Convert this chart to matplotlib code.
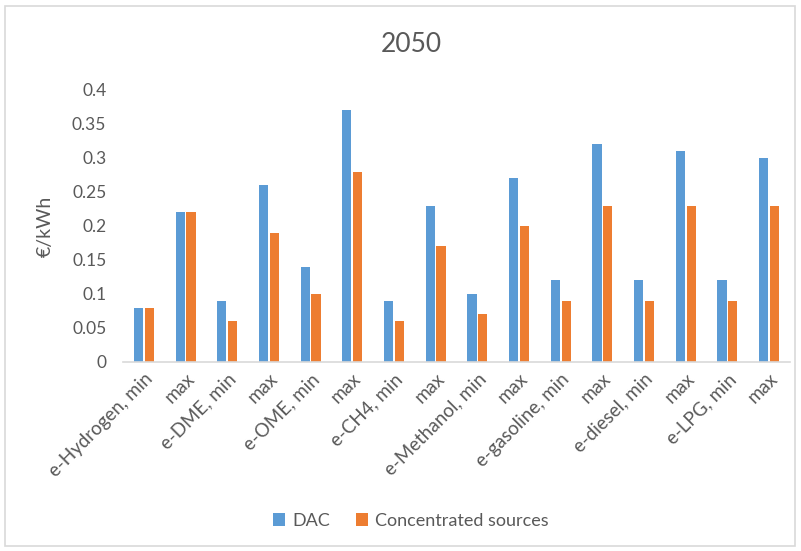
import matplotlib.pyplot as plt
from matplotlib.patches import Rectangle
import numpy as np

categories = ["e-Hydrogen, min", "max", "e-DME, min", "max", "e-OME, min", "max",
              "e-CH4, min", "max", "e-Methanol, min", "max", "e-gasoline, min", "max",
              "e-diesel, min", "max", "e-LPG, min", "max"]
dac = [0.08, 0.22, 0.09, 0.26, 0.14, 0.37, 0.09, 0.23, 0.10, 0.27, 0.12, 0.32, 0.12, 0.31, 0.12, 0.30]
concentrated = [0.08, 0.22, 0.06, 0.19, 0.10, 0.28, 0.06, 0.17, 0.07, 0.20, 0.09, 0.23, 0.09, 0.23, 0.09, 0.23]
yticks = [0, 0.05, 0.1, 0.15, 0.2, 0.25, 0.3, 0.35, 0.4]
ytick_labels = ["0", "0.05", "0.1", "0.15", "0.2", "0.25", "0.3", "0.35", "0.4"]

plt.rcParams['font.family'] = ['Lato', 'DejaVu Sans']
text_color = '#595959'

fig = plt.figure(figsize=(8.01, 5.51), dpi=100)
ax = fig.add_axes([123 / 801, 1 - 362 / 551, 667 / 801, 272 / 551])

# outer chart border
fig.patches.append(Rectangle((5 / 801, 5 / 551), 790 / 801, 540 / 551, transform=fig.transFigure,
                             fill=False, edgecolor='#d9d9d9', linewidth=1.2))

x = np.arange(len(categories))
w = 0.22
ax.bar(x - w / 2 - 0.02, dac, w, color='#5b9bd5', label='DAC')
ax.bar(x + w / 2 + 0.02, concentrated, w, color='#ed7d31', label='Concentrated sources')

ax.set_xlim(-0.5, len(categories) - 0.5)
ax.set_ylim(0, 0.4)
ax.set_yticks(yticks)
ax.set_yticklabels(ytick_labels)
ax.set_xticks(x)
ax.set_xticklabels(categories, rotation=45, ha='right', rotation_mode='anchor')
ax.tick_params(axis='y', length=0, labelsize=12.5, colors=text_color, pad=12)
ax.tick_params(axis='x', length=0, labelsize=13.5, colors=text_color, pad=6)

for s in ['top', 'right', 'left']:
    ax.spines[s].set_visible(False)
ax.spines['bottom'].set_color('#d9d9d9')
ax.spines['bottom'].set_linewidth(1.2)

ax.set_ylabel('€/kWh', fontsize=14, color=text_color, labelpad=13)
fig.text(0.513, 1 - 45 / 551, '2050', fontsize=19, color=text_color, ha='center', va='center')

fig.legend(loc='center', bbox_to_anchor=(0.513, 1 - 521 / 551), ncol=2, frameon=False,
           fontsize=13, labelcolor=text_color, handlelength=0.7, handleheight=0.7,
           columnspacing=1.4, handletextpad=0.4)

fig.savefig('out.png', dpi=100)
